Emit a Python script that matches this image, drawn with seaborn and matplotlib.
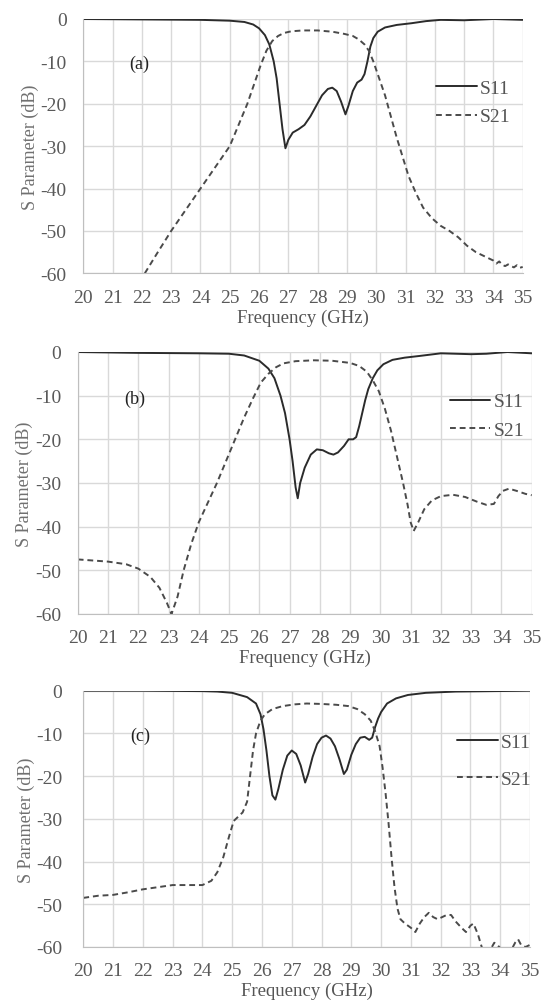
import matplotlib
matplotlib.use("Agg")
import matplotlib.pyplot as plt
import seaborn as sns

# ---- panel (a) ----
a_s11_f = [20, 22, 24, 25, 25.5, 25.8, 26.0, 26.2, 26.35, 26.5, 26.6, 26.7, 26.8, 26.9, 27.0, 27.15,
           27.35, 27.55, 27.75, 27.95, 28.15, 28.35, 28.5, 28.65, 28.8, 28.95, 29.05, 29.2, 29.35,
           29.5, 29.6, 29.7, 29.8, 29.9, 30.05, 30.3, 30.7, 31.2, 31.7, 32.2, 33, 34, 35]
a_s11_v = [0, -0.1, -0.2, -0.4, -0.7, -1.3, -2.2, -3.8, -6, -10, -14, -20, -26, -30.5, -28.5, -26.8,
           -26, -25, -23, -20.5, -18, -16.5, -16.2, -17, -19.5, -22.5, -20.5, -17, -15,
           -14.3, -13, -10, -6.5, -4.5, -3, -2, -1.4, -1, -0.5, -0.2, -0.3, 0, -0.2]
a_s21_f = [22.1, 22.5, 23, 23.5, 24, 24.5, 25, 25.3, 25.6, 25.85, 26.05, 26.25, 26.45, 26.65, 26.85,
           27.1, 27.5, 28.0, 28.5, 28.9, 29.2, 29.4, 29.6, 29.75, 29.9, 30.1, 30.3, 30.5, 30.7,
           30.9, 31.1, 31.35, 31.6, 31.9, 32.2, 32.5, 32.8, 33.1, 33.4, 33.7, 34.0, 34.1, 34.2,
           34.3, 34.4, 34.5, 34.6, 34.7, 34.8, 34.9, 35]
a_s21_v = [-60, -55.5, -50, -45, -40, -35, -30, -25, -20, -15, -11, -7.5, -5.2, -4, -3.3,
           -2.9, -2.7, -2.7, -3, -3.5, -4, -4.8, -6, -7.5, -10, -14, -18, -23, -28,
           -32.5, -37, -41, -44.5, -47, -48.8, -50, -51.5, -53.5, -55, -56, -57, -57.7, -57.2,
           -58, -58.3, -57.9, -58.3, -58.6, -58.1, -58.7, -58.5]

# ---- panel (b) ----
b_s11_f = [20, 22, 24, 25, 25.5, 26.0, 26.3, 26.5, 26.7, 26.85, 27.0, 27.1, 27.2, 27.27, 27.35, 27.5,
           27.7, 27.9, 28.1, 28.3, 28.45, 28.6, 28.8, 28.95, 29.1, 29.2, 29.3, 29.4, 29.5, 29.6,
           29.75, 29.9, 30.1, 30.4, 30.8, 31.3, 32, 33, 33.5, 34.2, 35]
b_s11_v = [0, -0.2, -0.3, -0.4, -0.8, -2, -3.8, -6, -10, -14, -20, -25, -31, -33.5, -30, -26.5,
           -23.5, -22.3, -22.5, -23.2, -23.5, -23, -21.5, -20, -20, -19.5, -17, -14, -11, -8.5,
           -6, -4.2, -2.8, -1.8, -1.3, -0.9, -0.3, -0.5, -0.4, 0, -0.3]
b_s21_f = [20, 21, 21.6, 22.0, 22.4, 22.7, 22.95, 23.1, 23.3, 23.5, 23.75, 24.0, 24.3, 24.6, 24.9,
           25.2, 25.5, 25.8, 26.05, 26.3, 26.55, 26.8, 27.2, 27.8, 28.4, 29.0, 29.3, 29.55, 29.75,
           29.95, 30.15, 30.35, 30.55, 30.75, 30.9, 31.0, 31.1, 31.25, 31.45, 31.7, 32.0, 32.4,
           32.8, 33.2, 33.5, 33.75, 33.9, 34.05, 34.25, 34.5, 34.8, 35]
b_s21_v = [-47.5, -48, -48.6, -49.6, -51.5, -54, -57.5, -60, -56, -50, -44, -39, -34.5, -30, -25,
           -20, -15, -10.5, -7, -5, -3.5, -2.6, -2.1, -1.9, -2, -2.5, -3.2, -4.5, -6.5,
           -9, -13, -18, -24, -30, -35, -39, -41, -39, -36, -34, -33, -32.7,
           -33.2, -34.3, -35, -34.8, -33, -31.8, -31.3, -31.8, -32.5, -32.8]

# ---- panel (c) ----
c_s11_f = [20, 22, 24, 24.5, 25.0, 25.5, 25.8, 25.95, 26.05, 26.15, 26.25, 26.35, 26.45, 26.55, 26.7,
           26.85, 27.0, 27.15, 27.3, 27.45, 27.55, 27.7, 27.85, 28.0, 28.15, 28.3, 28.45, 28.6,
           28.75, 28.85, 29.0, 29.15, 29.3, 29.45, 29.6, 29.7, 29.8, 29.9, 30.0, 30.2, 30.5,
           30.9, 31.5, 32.5, 35]
c_s11_v = [0, 0, -0.1, -0.2, -0.5, -1.5, -3, -5.5, -9, -14, -20, -24.5, -25.5, -23, -18.5,
           -15.2, -14, -14.8, -17.5, -21.5, -19.5, -15.5, -12.5, -11, -10.5, -11.2, -13, -16,
           -19.5, -18.5, -15, -12.5, -11, -10.8, -11.5, -11, -8.5, -6.5, -5, -3, -1.8,
           -1, -0.5, -0.2, 0]
c_s21_f = [20, 20.5, 21, 21.5, 22, 22.5, 23, 23.5, 24, 24.3, 24.5, 24.7, 24.9, 25.05, 25.2, 25.35,
           25.5, 25.6, 25.7, 25.8, 25.95, 26.1, 26.35, 26.7, 27.1, 27.5, 28.0, 28.5, 28.9, 29.2,
           29.45, 29.65, 29.8, 29.95, 30.05, 30.15, 30.25, 30.35, 30.45, 30.55, 30.65, 30.8,
           31.0, 31.15, 31.3, 31.45, 31.6, 31.75, 31.9, 32.05, 32.2, 32.35, 32.5, 32.7, 32.85,
           33.0, 33.1, 33.25, 33.4, 33.6, 33.8, 33.9, 34.1, 34.35, 34.5, 34.6, 34.7, 34.85, 35]
c_s21_v = [-48.5, -48, -47.8, -47.2, -46.5, -46, -45.5, -45.5, -45.5, -44.5, -42.5, -39, -34, -30.5,
           -29.5, -28.5, -26, -20, -14, -10, -7, -5.5, -4.3, -3.6, -3.2, -3, -3.1, -3.3, -3.6,
           -4.3, -5.5, -7, -9.5, -13, -18, -24, -31, -39, -46, -51, -53.5, -54.5,
           -55.5, -56.5, -54.5, -53, -52, -53, -53.5, -53, -52.5, -52.5, -54, -55.5, -56.5,
           -55, -54.5, -57, -60.5, -61.5, -59, -59.5, -61, -61, -59, -58.2, -59.5, -60, -59.5]

W, H = 549, 1003
# (tag, data..., [left, top, right, bottom] in px, legend anchor, legend spacing, ytick pad)
panels = [
    ("(a)", a_s11_f, a_s11_v, a_s21_f, a_s21_v, (83.3, 20, 522.7, 274.3), (0.973, 0.672), 0.55, 12),
    ("(b)", b_s11_f, b_s11_v, b_s21_f, b_s21_v, (77.7, 353, 531.7, 615), (0.983, 0.757), 0.55, 12),
    ("(c)", c_s11_f, c_s11_v, c_s21_f, c_s21_v, (83.3, 691.7, 530, 948), (1.004, 0.726), 1.0, 15),
]

sns.set_style("whitegrid", {"grid.color": "#d9d9d9", "axes.edgecolor": "#bfbfbf"})
plt.rcParams["font.family"] = ["Liberation Serif", "DejaVu Serif"]
plt.rcParams["axes.unicode_minus"] = False

fig = plt.figure(figsize=(W / 100, H / 100), dpi=100)

for tag, f11, v11, f21, v21, box, leg_pos, leg_sp, ypad in panels:
    l, t, r, b = box
    ax = fig.add_axes([l / W, 1 - b / H, (r - l) / W, (b - t) / H])
    sns.lineplot(x=f11, y=v11, ax=ax, color="#2b2b2b", linewidth=1.4, label="S11")
    sns.lineplot(x=f21, y=v21, ax=ax, color="#4a4a4a", linewidth=1.4, label="S21")
    ax.lines[1].set_linestyle((0, (3, 2)))
    ax.set_xlim(20, 35)
    ax.set_ylim(-60, 0)
    ax.set_xticks(range(20, 36))
    ax.set_yticks(range(-60, 1, 10))
    ax.grid(True, color="#d9d9d9", linewidth=1)
    for s in ["top", "right"]:
        ax.spines[s].set_visible(False)
    ax.tick_params(axis="both", length=0, labelsize=14, colors="#595959")
    ax.tick_params(axis="x", pad=11)
    ax.tick_params(axis="y", pad=ypad)
    ax.set_xlabel("Frequency (GHz)", fontsize=13.5, color="#555555", labelpad=2)
    ax.set_ylabel("S Parameter (dB)", fontsize=13, color="#707070", labelpad=1)
    ax.text(21.9, -10.5, tag, fontsize=13, color="#222222", ha="center", va="center")
    ax.legend(loc="center right", bbox_to_anchor=leg_pos, frameon=False, fontsize=14,
              handlelength=2.1, handletextpad=0.15, labelspacing=leg_sp, borderaxespad=0,
              borderpad=0, labelcolor="#555555")

fig.savefig("out.png", dpi=100)
